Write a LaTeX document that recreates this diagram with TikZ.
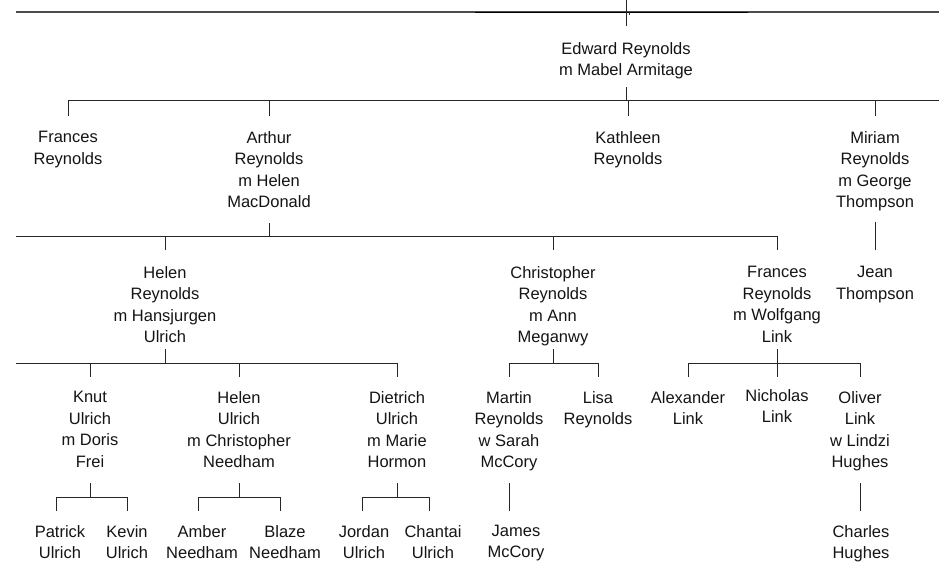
\documentclass[tikz,border=0pt]{standalone}
\usepackage{fontspec}
\setmainfont{Liberation Sans}
\begin{document}
\begin{tikzpicture}[x=1pt,y=-1pt,
  person/.style={align=center, inner sep=0pt, anchor=north, text=black!92,
    font=\fontsize{16.5}{21.5}\selectfont},
  leaf/.style={person, font=\fontsize{16.5}{21}\selectfont},
  link/.style={draw=black!85, line width=1pt},
  rootline/.style={draw=black!70, line width=1.3pt}]
\useasboundingbox (0,0) rectangle (948,562);

% people
\node[person] (ed)  at (626,42)  {Edward Reynolds\\m Mabel Armitage};
\node[person] (fr1) at (68,131)  {Frances\\Reynolds};
\node[person] (ar)  at (269,131) {Arthur\\Reynolds\\m Helen\\MacDonald};
\node[person] (ka)  at (628,131) {Kathleen\\Reynolds};
\node[person] (mi)  at (875,131) {Miriam\\Reynolds\\m George\\Thompson};
\node[person] (he)  at (165,266) {Helen\\Reynolds\\m Hansjurgen\\Ulrich};
\node[person] (ch)  at (553,266) {Christopher\\Reynolds\\m Ann\\Meganwy};
\node[person] (fr2) at (777,266) {Frances\\Reynolds\\m Wolfgang\\Link};
\node[person] (je)  at (875,266) {Jean\\Thompson};
\node[person] (kn)  at (90,391)  {Knut\\Ulrich\\m Doris\\Frei};
\node[person] (hu)  at (239,391) {Helen\\Ulrich\\m Christopher\\Needham};
\node[person] (di)  at (397,391) {Dietrich\\Ulrich\\m Marie\\Hormon};
\node[person] (ma)  at (509,391) {Martin\\Reynolds\\w Sarah\\McCory};
\node[person] (li)  at (598,391) {Lisa\\Reynolds};
\node[person] (al)  at (688,391) {Alexander\\Link};
\node[person] (ni)  at (777,389) {Nicholas\\Link};
\node[person] (ol)  at (860,391) {Oliver\\Link\\w Lindzi\\Hughes};
\node[leaf] (pa)  at (60,525)  {Patrick\\Ulrich};
\node[leaf] (ke)  at (127,525) {Kevin\\Ulrich};
\node[leaf] (am)  at (202,525) {Amber\\Needham};
\node[leaf] (bl)  at (285,525) {Blaze\\Needham};
\node[leaf] (jo)  at (364,525) {Jordan\\Ulrich};
\node[leaf] (cn)  at (433,525) {Chantai\\Ulrich};
\node[leaf] (ja)  at (516,525) {James\\McCory};
\node[leaf] (cs)  at (861,525) {Charles\\Hughes};

% free ends
\coordinate (topL) at (16,12);
\coordinate (topR) at (939,12);
\coordinate (edR)  at (939,100);
\coordinate (arL)  at (16,236);
\coordinate (heL)  at (16,363);

% top line
\draw[rootline] (topL) -- (topR);
\draw[link, draw=black] (475,12) -- (748,12);
\draw[link] (ed |- 0,0) -- (ed |- 0,26);
\draw[link, line width=0.8pt] (629,12) -- (629,15);

% Edward's children
\draw[link] (ed |- 0,87) -- (ed |- 0,100);
\draw[link] (fr1 |- 0,100) -- (edR);
\foreach \c in {fr1,ar,ka,mi} \draw[link] (\c |- 0,100) -- (\c |- 0,116);

% Arthur's children
\draw[link] (ar |- 0,223) -- (ar |- 0,236);
\draw[link] (arL) -- (fr2 |- 0,236);
\foreach \c in {he,ch,fr2} \draw[link] (\c |- 0,236) -- (\c |- 0,250);

% Miriam's child
\draw[link] (mi |- 0,222) -- (je |- 0,250);

% Helen Reynolds' children
\draw[link] (he |- 0,349) -- (he |- 0,363);
\draw[link] (heL) -- (di |- 0,363);
\foreach \c in {kn,hu,di} \draw[link] (\c |- 0,363) -- (\c |- 0,377);

% Christopher's children
\draw[link] (ch |- 0,349) -- (ch |- 0,363);
\draw[link] (ma |- 0,363) -- (li |- 0,363);
\foreach \c in {ma,li} \draw[link] (\c |- 0,363) -- (\c |- 0,377);

% Frances (Link) children
\draw[link] (fr2 |- 0,349) -- (fr2 |- 0,363);
\draw[link] (al |- 0,363) -- (ol |- 0,363);
\foreach \c in {al,ni,ol} \draw[link] (\c |- 0,363) -- (\c |- 0,377);

% Knut's children
\draw[link] (kn |- 0,483) -- (kn |- 0,497);
\draw[link] (56,497) -- (127,497);
\draw[link] (56,497) -- (56,511);
\draw[link] (127,497) -- (127,511);

% Helen Ulrich's children
\draw[link] (hu |- 0,483) -- (hu |- 0,497);
\draw[link] (198,497) -- (280,497);
\draw[link] (198,497) -- (198,511);
\draw[link] (280,497) -- (280,511);

% Dietrich's children
\draw[link] (di |- 0,483) -- (di |- 0,497);
\draw[link] (362,497) -- (429,497);
\draw[link] (362,497) -- (362,511);
\draw[link] (429,497) -- (429,511);

% Martin's child
\draw[link] (ma |- 0,483) -- (ma |- 0,511);

% Oliver's child
\draw[link] (ol |- 0,483) -- (ol |- 0,511);
\end{tikzpicture}
\end{document}
